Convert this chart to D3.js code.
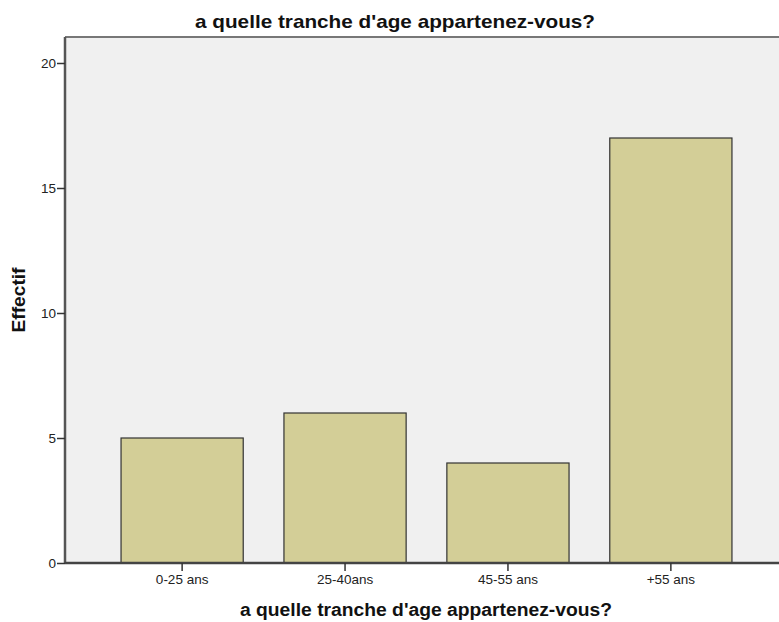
<!DOCTYPE html>
<html>
<head>
<meta charset="utf-8">
<script src="https://cdn.jsdelivr.net/npm/d3@7"></script>
<style>
  body { margin: 0; background: #fff; }
  text { font-family: "Liberation Sans", Arial, sans-serif; }
</style>
</head>
<body>
<svg width="779" height="622"></svg>
<script>
// Data
const categories = ["0-25 ans", "25-40ans", "45-55 ans", "+55 ans"];
const counts = [5, 6, 4, 17];
const yTicks = [0, 5, 10, 15, 20];

const svg = d3.select("svg"),
  width = +svg.attr("width"),
  height = +svg.attr("height");

// plot area (right edge runs past the window, as in the original)
const plotLeft = 65, plotTop = 37, plotRight = 788, plotBottom = 563;

const x = d3.scaleBand()
  .domain(categories)
  .range([plotLeft, plotRight])
  .paddingInner(0.25)
  .paddingOuter(0.344);

const y = d3.scaleLinear()
  .domain([0, 21.04])
  .range([plotBottom, plotTop]);

// background
svg.append("rect")
  .attr("x", plotLeft).attr("y", plotTop)
  .attr("width", plotRight - plotLeft).attr("height", plotBottom - plotTop)
  .attr("fill", "#f0f0f0");

// top border
svg.append("line")
  .attr("x1", plotLeft).attr("x2", plotRight)
  .attr("y1", plotTop).attr("y2", plotTop)
  .attr("stroke", "#777").attr("stroke-width", 2);

// bars
svg.selectAll(".bar")
  .data(counts)
  .join("rect")
  .attr("class", "bar")
  .attr("x", (d, i) => x(categories[i]))
  .attr("y", d => y(d))
  .attr("width", x.bandwidth())
  .attr("height", d => y(0) - y(d))
  .attr("fill", "#d3ce97")
  .attr("stroke", "#333")
  .attr("stroke-width", 1.2);

// y axis
const yAxis = svg.append("g")
  .attr("transform", `translate(${plotLeft},0)`)
  .call(d3.axisLeft(y).tickValues(yTicks).tickSize(8).tickPadding(1).tickSizeOuter(0));
yAxis.select(".domain").attr("stroke", "#555").attr("stroke-width", 2.5)
  .attr("d", `M0,${plotBottom}V${plotTop}`);
yAxis.selectAll(".tick line").attr("stroke", "#333").attr("stroke-width", 1.5);
yAxis.selectAll(".tick text").attr("font-size", 13.5).attr("fill", "#222")
  .style("font-family", "'Liberation Sans', Arial, sans-serif");

// x axis
const xAxis = svg.append("g")
  .attr("transform", `translate(0,${plotBottom})`)
  .call(d3.axisBottom(x).tickSize(8).tickPadding(3).tickSizeOuter(0));
xAxis.select(".domain").attr("stroke", "#444").attr("stroke-width", 2.5)
  .attr("d", `M${plotLeft},0H${plotRight}`);
xAxis.selectAll(".tick line").attr("stroke", "#333").attr("stroke-width", 1.5);
xAxis.selectAll(".tick text").attr("font-size", 13.5).attr("fill", "#222")
  .style("font-family", "'Liberation Sans', Arial, sans-serif");

// titles
svg.append("text")
  .attr("x", 395).attr("y", 28)
  .attr("text-anchor", "middle")
  .attr("font-size", 19).attr("font-weight", "bold")
  .attr("textLength", 400).attr("lengthAdjust", "spacingAndGlyphs")
  .attr("fill", "#111")
  .text("a quelle tranche d'age appartenez-vous?");

svg.append("text")
  .attr("x", 426).attr("y", 616)
  .attr("text-anchor", "middle")
  .attr("font-size", 18).attr("font-weight", "bold")
  .attr("textLength", 372).attr("lengthAdjust", "spacingAndGlyphs")
  .attr("fill", "#111")
  .text("a quelle tranche d'age appartenez-vous?");

svg.append("text")
  .attr("transform", "translate(25,300) rotate(-90)")
  .attr("text-anchor", "middle")
  .attr("font-size", 18).attr("font-weight", "bold")
  .attr("textLength", 65).attr("lengthAdjust", "spacingAndGlyphs")
  .attr("fill", "#111")
  .text("Effectif");
</script>
</body>
</html>
